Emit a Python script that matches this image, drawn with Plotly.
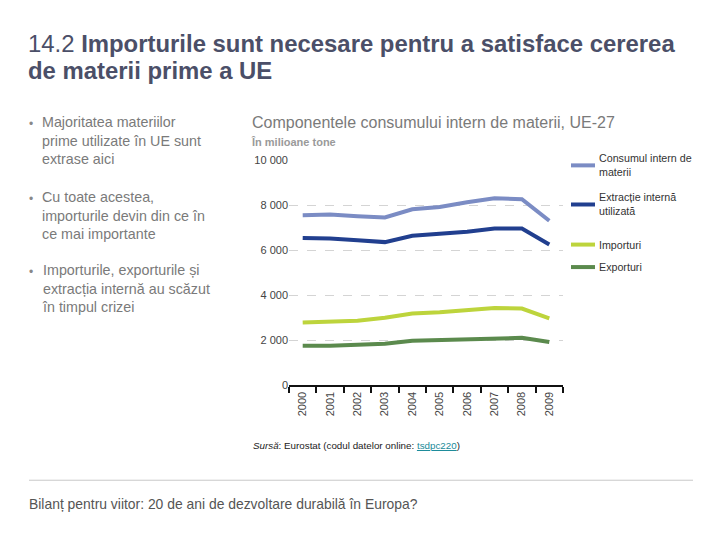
import plotly.graph_objects as go

years = ["2000", "2001", "2002", "2003", "2004", "2005", "2006", "2007", "2008", "2009"]
consum_intern = [7570, 7595, 7525, 7465, 7830, 7930, 8140, 8320, 8275, 7320]
extractie_interna = [6555, 6530, 6455, 6370, 6655, 6730, 6830, 6975, 6975, 6265]
importuri = [2800, 2830, 2875, 3005, 3195, 3255, 3345, 3445, 3415, 2980]
exporturi = [1765, 1765, 1810, 1855, 1985, 2015, 2060, 2115, 2115, 1925]

series_names = ["Consumul intern de<br>materii", "Extracție internă<br>utilizată", "Importuri", "Exporturi"]
series_values = [consum_intern, extractie_interna, importuri, exporturi]
series_colors = ["#7b8cc4", "#213f8f", "#bdd43c", "#5b8a4d"]

y_tickvals = [0, 2000, 4000, 6000, 8000, 10000]
y_ticktext = ["0", "2 000", "4 000", "6 000", "8 000", "10 000"]

fig = go.Figure()
for name, vals, col in zip(series_names, series_values, series_colors):
    fig.add_trace(go.Scatter(x=years, y=vals, mode="lines", name=name,
                             line=dict(color=col, width=4), showlegend=False))

W, H = 720, 540
def px(x):
    return x / W
def py(y):
    return 1 - y / H

fig.update_layout(
    width=W, height=H,
    margin=dict(l=0, r=0, t=0, b=0),
    paper_bgcolor="white", plot_bgcolor="white",
    font=dict(family="Liberation Sans, Arial, sans-serif", color="#555"),
    xaxis=dict(domain=[px(289), px(563)], type="category", range=[-0.5, 9.5],
               tickson="boundaries", ticks="outside", ticklen=6, tickwidth=2,
               tickcolor="#111", showline=True, linecolor="#111", linewidth=2,
               tickangle=-90, tickfont=dict(size=11, color="#444"),
               showgrid=False),
    yaxis=dict(domain=[py(388), py(158)], range=[0, 10000],
               tickvals=y_tickvals, ticktext=y_ticktext,
               tickfont=dict(size=11, color="#444"),
               showgrid=True, gridcolor="#d4d4d4", griddash="dash", gridwidth=1,
               zeroline=False, showline=False, ticks=""),
)

annotations = []
shapes = []

# Title
annotations.append(dict(x=px(26), y=py(38), xref="paper", yref="paper",
                        xanchor="left", yanchor="middle", align="left", showarrow=False,
                        text="14.2 <b>Importurile sunt necesare pentru a satisface cererea</b>",
                        font=dict(size=23.9, color="#4b4f68")))
annotations.append(dict(x=px(26), y=py(66), xref="paper", yref="paper",
                        xanchor="left", yanchor="middle", align="left", showarrow=False,
                        text="<b>de materii prime a UE</b>",
                        font=dict(size=23.9, color="#4b4f68")))

# Bullets
bullets = [
    (139, ["Majoritatea materiilor", "prime utilizate în UE sunt", "extrase aici"]),
    (215, ["Cu toate acestea,", "importurile devin din ce în", "ce mai importante"]),
    (290, ["Importurile, exporturile și", "extracția internă au scăzut", "în timpul crizei"]),
]
for yc, lines in bullets:
    annotations.append(dict(x=px(27), y=py(yc - 18), xref="paper", yref="paper",
                            xanchor="left", yanchor="middle", showarrow=False,
                            text="•", font=dict(size=12, color="#888")))
    annotations.append(dict(x=px(40), y=py(yc - 1), xref="paper", yref="paper",
                            xanchor="left", yanchor="middle", align="left", showarrow=False,
                            text="<br>".join(lines),
                            font=dict(size=14.3, color="#7a7a7a")))

# Chart title and unit
annotations.append(dict(x=px(250), y=py(119), xref="paper", yref="paper",
                        xanchor="left", yanchor="middle", showarrow=False,
                        text="Componentele consumului intern de materii, UE-27",
                        font=dict(size=16, color="#7a7a7a")))
annotations.append(dict(x=px(249), y=py(139), xref="paper", yref="paper",
                        xanchor="left", yanchor="middle", showarrow=False,
                        text="<b>În milioane tone</b>",
                        font=dict(size=11, color="#9a9a9a")))

# Legend (manual)
legend_y = [163, 203, 244, 267]
for name, col, ly in zip(series_names, series_colors, legend_y):
    shapes.append(dict(type="line", xref="paper", yref="paper",
                       x0=px(571), x1=px(595), y0=py(ly), y1=py(ly),
                       line=dict(color=col, width=4)))
    annotations.append(dict(x=px(597), y=py(ly), xref="paper", yref="paper",
                            xanchor="left", yanchor="middle", align="left", showarrow=False,
                            text=name, font=dict(size=10.7, color="#333")))

# Source
annotations.append(dict(x=px(251), y=py(449), xref="paper", yref="paper",
                        xanchor="left", yanchor="middle", showarrow=False,
                        text="<i>Sursă</i>: Eurostat (codul datelor online: "
                             "<span style='color:#1a8a9a'><u>tsdpc220</u></span>)",
                        font=dict(size=9.8, color="#222")))

# Separator line and footer
shapes.append(dict(type="line", xref="paper", yref="paper",
                   x0=px(29), x1=px(693), y0=py(485), y1=py(485),
                   line=dict(color="#c8c8c8", width=1)))
annotations.append(dict(x=px(27), y=py(509), xref="paper", yref="paper",
                        xanchor="left", yanchor="middle", showarrow=False,
                        text="Bilanț pentru viitor: 20 de ani de dezvoltare durabilă în Europa?",
                        font=dict(size=13.9, color="#555")))

fig.update_layout(annotations=annotations, shapes=shapes)
fig.write_html("out.html", config={"displayModeBar": False},
               post_script="document.body.style.margin='0';document.body.style.overflow='hidden';")
